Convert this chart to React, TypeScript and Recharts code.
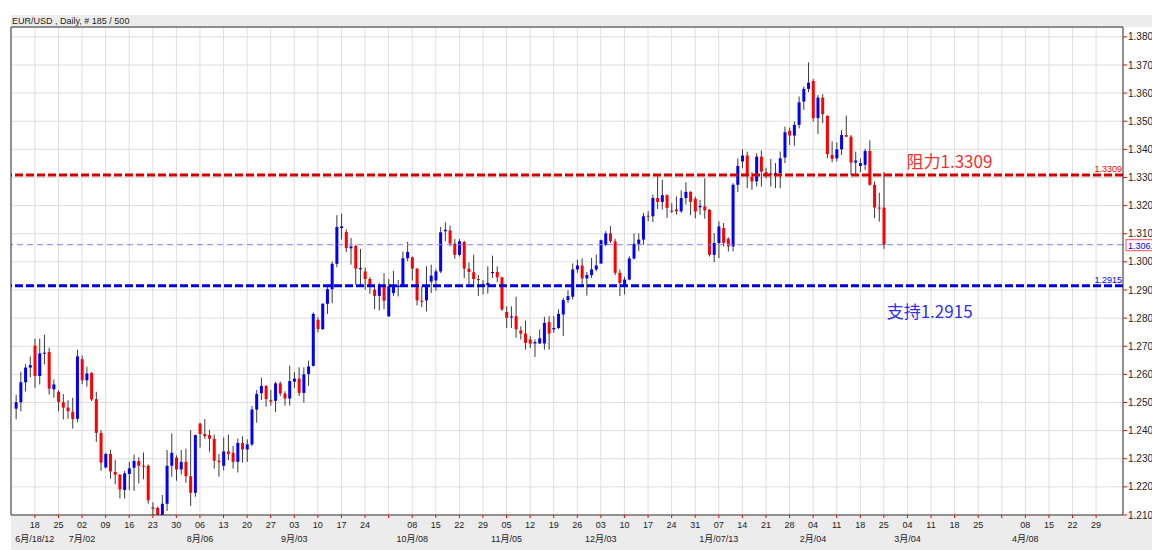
import React from "react";
import { ComposedChart, Bar, XAxis, YAxis, CartesianGrid, ReferenceLine, ReferenceDot } from "recharts";

// EUR/USD daily bars, bar 0 = Tue 12 Jun 2012, last bar = Mon 25 Feb 2013
const opens = [
  1.2478, 1.2501, 1.2572, 1.2624, 1.2702, 1.2594, 1.2674, 1.2679, 1.2547, 1.2538,
  1.2501, 1.2482, 1.2467, 1.2442, 1.2654, 1.2579, 1.2605, 1.2512, 1.2392, 1.2269,
  1.2317, 1.2253, 1.2243, 1.2189, 1.2246, 1.2268, 1.2292, 1.2275, 1.2275, 1.2127,
  1.2125, 1.2065, 1.2140, 1.2275, 1.2304, 1.2262, 1.2289, 1.2238, 1.2179, 1.2425,
  1.2388, 1.2384, 1.2371, 1.2293, 1.2275, 1.2326, 1.2321, 1.2289, 1.2356, 1.2333,
  1.2351, 1.2475, 1.2533, 1.2559, 1.2508, 1.2506, 1.2568, 1.2532, 1.2514, 1.2574,
  1.2585, 1.2534, 1.2601, 1.2630, 1.2794, 1.2761, 1.2851, 1.2903, 1.2993, 1.3120,
  1.3106, 1.3048, 1.3057, 1.2974, 1.2966, 1.2939, 1.2901, 1.2879, 1.2913, 1.2806,
  1.2889, 1.2910, 1.2916, 1.3013, 1.3016, 1.2976, 1.2862, 1.2863, 1.2930, 1.2934,
  1.2966, 1.3109, 1.3112, 1.3065, 1.3025, 1.3071, 1.2976, 1.2963, 1.2939, 1.2919,
  1.2917, 1.2960, 1.2964, 1.2945, 1.2822, 1.2802, 1.2807, 1.2756, 1.2745, 1.2724,
  1.2710, 1.2710, 1.2710, 1.2786, 1.2760, 1.2765, 1.2813, 1.2864, 1.2876, 1.2973,
  1.2987, 1.2941, 1.2953, 1.2973, 1.2994, 1.3061, 1.3101, 1.3073, 1.2961, 1.2913,
  1.2937, 1.3012, 1.3064, 1.3079, 1.3164, 1.3162, 1.3227, 1.3213, 1.3237, 1.3182,
  1.3186, 1.3180, 1.3227, 1.3249, 1.3224, 1.3194, 1.3197, 1.3185, 1.3025, 1.3067,
  1.3120, 1.3082, 1.3055, 1.3274, 1.3357, 1.3378, 1.3303, 1.3286, 1.3374, 1.3319,
  1.3310, 1.3312, 1.3315, 1.3371, 1.3466, 1.3449, 1.3487, 1.3570, 1.3615, 1.3643,
  1.3511, 1.3584, 1.3519, 1.3380, 1.3368, 1.3400, 1.3451, 1.3445, 1.3353, 1.3341,
  1.3345, 1.3394, 1.3274, 1.3193, 1.3193,
];

const highs = [
  1.2527, 1.2609, 1.2636, 1.2664, 1.2727, 1.2727, 1.2741, 1.2695, 1.2582, 1.2544,
  1.2530, 1.2508, 1.2517, 1.2688, 1.2667, 1.2627, 1.2608, 1.2538, 1.2402, 1.2321,
  1.2332, 1.2296, 1.2246, 1.2257, 1.2289, 1.2315, 1.2305, 1.2322, 1.2280, 1.2145,
  1.2130, 1.2171, 1.2331, 1.2390, 1.2312, 1.2331, 1.2336, 1.2402, 1.2386, 1.2428,
  1.2441, 1.2402, 1.2386, 1.2317, 1.2376, 1.2386, 1.2345, 1.2372, 1.2380, 1.2369,
  1.2487, 1.2544, 1.2588, 1.2562, 1.2545, 1.2574, 1.2574, 1.2540, 1.2631, 1.2608,
  1.2625, 1.2625, 1.2649, 1.2820, 1.2803, 1.2853, 1.2913, 1.3002, 1.3166, 1.3171,
  1.3116, 1.3085, 1.3061, 1.3046, 1.2980, 1.2946, 1.2913, 1.2924, 1.2960, 1.2939,
  1.2968, 1.2936, 1.3037, 1.3071, 1.3019, 1.2978, 1.2913, 1.2984, 1.2990, 1.2974,
  1.3124, 1.3141, 1.3129, 1.3081, 1.3081, 1.3075, 1.2998, 1.3025, 1.2954, 1.2935,
  1.2984, 1.3022, 1.2984, 1.2947, 1.2842, 1.2842, 1.2876, 1.2771, 1.2791, 1.2736,
  1.2724, 1.2760, 1.2804, 1.2807, 1.2807, 1.2831, 1.2872, 1.2899, 1.2994, 1.3008,
  1.3012, 1.2964, 1.3014, 1.3026, 1.3079, 1.3109, 1.3127, 1.3082, 1.2973, 1.2947,
  1.3020, 1.3101, 1.3101, 1.3174, 1.3180, 1.3239, 1.3304, 1.3292, 1.3240, 1.3209,
  1.3233, 1.3254, 1.3283, 1.3251, 1.3232, 1.3220, 1.3297, 1.3188, 1.3102, 1.3144,
  1.3138, 1.3087, 1.3280, 1.3368, 1.3400, 1.3392, 1.3319, 1.3386, 1.3396, 1.3335,
  1.3366, 1.3351, 1.3392, 1.3481, 1.3477, 1.3499, 1.3588, 1.3623, 1.3709, 1.3650,
  1.3593, 1.3596, 1.3521, 1.3428, 1.3424, 1.3469, 1.3520, 1.3451, 1.3392, 1.3368,
  1.3402, 1.3432, 1.3286, 1.3246, 1.3319,
];

const lows = [
  1.2440, 1.2468, 1.2539, 1.2589, 1.2552, 1.2564, 1.2635, 1.2528, 1.2517, 1.2469,
  1.2440, 1.2442, 1.2407, 1.2430, 1.2565, 1.2556, 1.2505, 1.2360, 1.2257, 1.2266,
  1.2229, 1.2209, 1.2159, 1.2159, 1.2188, 1.2186, 1.2212, 1.2227, 1.2140, 1.2060,
  1.2042, 1.2050, 1.2114, 1.2236, 1.2222, 1.2244, 1.2215, 1.2132, 1.2165, 1.2340,
  1.2371, 1.2325, 1.2265, 1.2236, 1.2259, 1.2295, 1.2265, 1.2251, 1.2286, 1.2289,
  1.2345, 1.2428, 1.2509, 1.2485, 1.2489, 1.2466, 1.2523, 1.2489, 1.2489, 1.2551,
  1.2523, 1.2500, 1.2559, 1.2628, 1.2749, 1.2758, 1.2815, 1.2853, 1.2981, 1.3079,
  1.3035, 1.2990, 1.2919, 1.2916, 1.2901, 1.2886, 1.2832, 1.2827, 1.2832, 1.2806,
  1.2879, 1.2877, 1.2913, 1.3002, 1.2934, 1.2845, 1.2839, 1.2824, 1.2889, 1.2898,
  1.2960, 1.3073, 1.3055, 1.3011, 1.3019, 1.2942, 1.2913, 1.2913, 1.2879, 1.2884,
  1.2887, 1.2943, 1.2928, 1.2825, 1.2765, 1.2765, 1.2730, 1.2724, 1.2688, 1.2694,
  1.2662, 1.2708, 1.2688, 1.2688, 1.2748, 1.2760, 1.2736, 1.2854, 1.2866, 1.2961,
  1.2913, 1.2880, 1.2943, 1.2967, 1.2994, 1.3056, 1.3067, 1.2953, 1.2878, 1.2884,
  1.2935, 1.3008, 1.3038, 1.3061, 1.3144, 1.3141, 1.3188, 1.3186, 1.3156, 1.3174,
  1.3168, 1.3174, 1.3204, 1.3166, 1.3155, 1.3167, 1.3153, 1.3019, 1.2999, 1.3013,
  1.3055, 1.3037, 1.3037, 1.3248, 1.3333, 1.3262, 1.3256, 1.3268, 1.3268, 1.3297,
  1.3268, 1.3262, 1.3262, 1.3351, 1.3416, 1.3413, 1.3475, 1.3540, 1.3603, 1.3499,
  1.3455, 1.3493, 1.3368, 1.3354, 1.3357, 1.3380, 1.3444, 1.3309, 1.3309, 1.3319,
  1.3327, 1.3271, 1.3155, 1.3143, 1.3046,
];

const closes = [
  1.2501, 1.2572, 1.2624, 1.2633, 1.2594, 1.2675, 1.2677, 1.2549, 1.2564, 1.2502,
  1.2482, 1.2469, 1.2441, 1.2664, 1.2579, 1.2603, 1.2511, 1.2392, 1.2286, 1.2317,
  1.2255, 1.2243, 1.2191, 1.2248, 1.2266, 1.2292, 1.2275, 1.2274, 1.2152, 1.2122,
  1.2063, 1.2140, 1.2275, 1.2321, 1.2262, 1.2289, 1.2238, 1.2179, 1.2384, 1.2388,
  1.2380, 1.2371, 1.2293, 1.2288, 1.2326, 1.2317, 1.2289, 1.2356, 1.2333, 1.2351,
  1.2475, 1.2530, 1.2559, 1.2512, 1.2503, 1.2568, 1.2532, 1.2514, 1.2576, 1.2585,
  1.2534, 1.2600, 1.2628, 1.2815, 1.2761, 1.2851, 1.2903, 1.2993, 1.3124, 1.3126,
  1.3049, 1.3055, 1.2976, 1.2978, 1.2939, 1.2913, 1.2879, 1.2913, 1.2862, 1.2913,
  1.2913, 1.2916, 1.3013, 1.3035, 1.2976, 1.2863, 1.2858, 1.2916, 1.2951, 1.2966,
  1.3105, 1.3114, 1.3065, 1.3025, 1.3073, 1.2976, 1.2964, 1.2939, 1.2936, 1.2911,
  1.2925, 1.2964, 1.2945, 1.2831, 1.2801, 1.2806, 1.2760, 1.2745, 1.2712, 1.2709,
  1.2715, 1.2728, 1.2783, 1.2745, 1.2765, 1.2815, 1.2864, 1.2878, 1.2973, 1.2987,
  1.2941, 1.2953, 1.2973, 1.2987, 1.3077, 1.3101, 1.3073, 1.2961, 1.2925, 1.2937,
  1.3012, 1.3064, 1.3079, 1.3162, 1.3161, 1.3227, 1.3213, 1.3237, 1.3192, 1.3180,
  1.3180, 1.3227, 1.3249, 1.3213, 1.3179, 1.3199, 1.3183, 1.3025, 1.3067, 1.3126,
  1.3067, 1.3055, 1.3274, 1.3341, 1.3378, 1.3309, 1.3286, 1.3374, 1.3321, 1.3307,
  1.3314, 1.3316, 1.3368, 1.3461, 1.3449, 1.3487, 1.3567, 1.3615, 1.3637, 1.3511,
  1.3584, 1.3525, 1.3383, 1.3366, 1.3400, 1.3451, 1.3445, 1.3353, 1.3360, 1.3351,
  1.3394, 1.3274, 1.3193, 1.3190, 1.3061,
];

// Monday ticks, 18 Jun 2012 .. 29 Apr 2013 (empty label = gridline only)
const weekDays = [
  "18", "25", "02", "09", "16", "23", "30", "06", "13", "20", "27",
  "03", "10", "17", "24", "", "08", "15", "22", "29", "05", "12", "19", "26",
  "03", "10", "17", "24", "31", "07", "14", "21", "28", "04", "11", "18", "25",
  "04", "11", "18", "25", "", "08", "15", "22", "29",
];
const monthMarks = [
  "6月/18/12", "", "7月/02", "", "", "", "", "8月/06", "", "", "",
  "9月/03", "", "", "", "", "10月/08", "", "", "", "11月/05", "", "", "",
  "12月/03", "", "", "", "", "1月/07/13", "", "", "", "2月/04", "", "", "",
  "3月/04", "", "", "", "", "4月/08", "", "", "",
];

const priceTicks = [
  1.21, 1.22, 1.23, 1.24, 1.25, 1.26, 1.27, 1.28, 1.29,
  1.3, 1.31, 1.32, 1.33, 1.34, 1.35, 1.36, 1.37, 1.38,
];

const RESIST = 1.3309;
const SUPPORT = 1.2915;
const LAST = 1.3061;

const FIRST_MONDAY = 4; // bar index of Mon 18 Jun
const weekTicks = weekDays.map((_, k) => FIRST_MONDAY + 5 * k);

const X_MIN = -1.06;
const X_MAX = 234.7;
const Y_MIN = 1.21;
const Y_MAX = 1.3835;

const FONT = "'Liberation Sans', Arial, 'Noto Sans CJK SC', sans-serif";
const CJK = "'Noto Sans CJK SC', 'Liberation Sans', sans-serif";

const data = opens.map((o, i) => ({ i, o, h: highs[i], l: lows[i], c: closes[i] }));

function Candle(props: any) {
  const { x, y, width, height, payload } = props;
  if (!payload || !isFinite(y) || !isFinite(height)) return null;
  const { o, h, l, c } = payload;
  const k = height / (h - l);
  const cx = x + width / 2;
  const yOf = (v: number) => y + (h - v) * k;
  const top = yOf(Math.max(o, c));
  const bot = yOf(Math.min(o, c));
  return (
    <g>
      <line x1={cx} x2={cx} y1={y} y2={y + height} stroke="#3a3a3a" strokeWidth={1} />
      <rect x={cx - 1.5} y={top} width={3} height={Math.max(1, bot - top)} fill={c >= o ? "#0000ff" : "#ff0000"} />
    </g>
  );
}

function WeekTick(props: any) {
  const { x, y, payload } = props;
  const k = weekTicks.indexOf(payload.value);
  if (k < 0) return null;
  return (
    <g fontFamily={FONT} fontSize={9} fill="#222">
      <text x={x} y={y + 5} textAnchor="middle" dominantBaseline="central">{weekDays[k]}</text>
      {monthMarks[k] ? (
        <text x={x} y={y + 19} textAnchor="middle" dominantBaseline="central">{monthMarks[k]}</text>
      ) : null}
    </g>
  );
}

const endTag = (text: string, color: string) => (p: any) => (
  <text x={p.cx - 1} y={p.cy - 3} textAnchor="end" fontFamily={FONT} fontSize={9} fill={color}>{text}</text>
);

const lastTag = (p: any) => (
  <g>
    <rect x={p.cx + 3} y={p.cy - 5} width={34} height={11} fill="#fff" stroke="#ff5050" strokeWidth={1} />
    <text x={p.cx + 5} y={p.cy + 1} dominantBaseline="central" fontFamily={FONT} fontSize={9} fill="#0000ff">1.3061</text>
  </g>
);

const note = (text: string, color: string, dy: number) => (p: any) => (
  <text x={p.cx} y={p.cy + dy} fontFamily={CJK} fontSize={17} fill={color}>{text}</text>
);

export default function App() {
  return (
    <div style={{ position: "absolute", left: 0, top: 0, width: 1152, height: 550, background: "#fff", overflow: "hidden" }}>
      <div style={{ position: "absolute", left: 11, top: 15, width: 1141, height: 12, background: "#ececec" }} />
      <div style={{ position: "absolute", left: 12, top: 15, height: 12, lineHeight: "12px", fontFamily: FONT, fontSize: 9, color: "#222" }}>
        EUR/USD , Daily, # 185 / 500
      </div>
      <div style={{ position: "absolute", left: 11, top: 516, width: 1141, height: 34, background: "#ececec" }} />
      <div style={{ position: "absolute", left: 0, top: 0 }}>
        <ComposedChart width={1152} height={550} data={data} margin={{ top: 27, right: 0, bottom: 0, left: 11 }}>
          <CartesianGrid stroke="#dedede" />
          <XAxis
            dataKey="i"
            type="number"
            domain={[X_MIN, X_MAX]}
            allowDataOverflow
            ticks={weekTicks}
            interval={0}
            height={35}
            tickSize={3}
            tickLine={{ stroke: "#ff0000" }}
            axisLine={{ stroke: "#333" }}
            tick={<WeekTick />}
          />
          <YAxis
            orientation="right"
            type="number"
            domain={[Y_MIN, Y_MAX]}
            allowDataOverflow
            ticks={priceTicks}
            interval={0}
            width={29}
            tickSize={4}
            tickMargin={1}
            tickLine={{ stroke: "#ff0000" }}
            axisLine={{ stroke: "#333" }}
            tickFormatter={(v: number) => v.toFixed(4)}
            tick={{ fill: "#222", fontSize: 10, fontFamily: FONT }}
          />
          <Bar dataKey={(d: any) => [d.l, d.h]} shape={<Candle />} barSize={3} isAnimationActive={false} />
          <ReferenceLine y={LAST} stroke="#8080ff" strokeWidth={1} strokeDasharray="6 4" />
          <ReferenceLine y={RESIST} stroke="#d40000" strokeWidth={3} strokeDasharray="8 3" />
          <ReferenceLine y={SUPPORT} stroke="#0000dd" strokeWidth={3} strokeDasharray="8 3" />
          <ReferenceLine x={X_MIN} stroke="#333" />
          <ReferenceLine y={Y_MAX} stroke="#333" />
          <ReferenceDot x={X_MAX} y={RESIST} shape={endTag("1.3309", "#e00000")} />
          <ReferenceDot x={X_MAX} y={SUPPORT} shape={endTag("1.2915", "#0000ee")} />
          <ReferenceDot x={X_MAX} y={LAST} shape={lastTag} />
          <ReferenceDot x={188.8} y={RESIST} shape={note("阻力1.3309", "#f03030", -7)} />
          <ReferenceDot x={184.6} y={SUPPORT} shape={note("支持1.2915", "#3030f0", 32)} />
        </ComposedChart>
      </div>
    </div>
  );
}
